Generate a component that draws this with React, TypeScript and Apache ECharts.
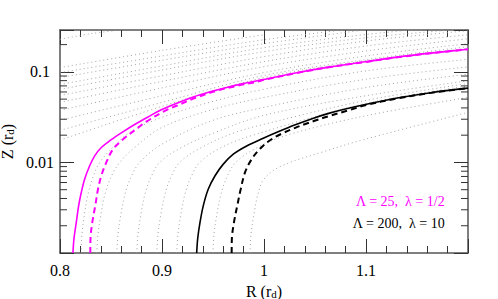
import React, { useEffect, useRef } from 'react';
import * as echarts from 'echarts';

type Pt = [number, number];

const xTickLabels = ['0.8', '0.9', '1', '1.1'];
const yTickLabels: Record<string, string> = { '-2': '0.01', '-1': '0.1' };
const minorLogTicks = [0.002, 0.003, 0.004, 0.005, 0.006, 0.007, 0.008, 0.009, 0.02, 0.03, 0.04, 0.05, 0.06, 0.07, 0.08, 0.09, 0.2];
const legendTexts = ['Λ = 25,  λ = 1/2', 'Λ = 200,  λ = 10'];

const magentaSolid: Pt[] = [
  [0.8127, 0.001], [0.8137, 0.00144], [0.816, 0.00219], [0.8183, 0.00334], [0.8209, 0.00468], [0.8242, 0.00655],
  [0.8291, 0.00918], [0.834, 0.01182], [0.8405, 0.01462], [0.8503, 0.01785], [0.8601, 0.0212], [0.8732, 0.02623],
  [0.8863, 0.03178], [0.8993, 0.03814], [0.9144, 0.04494], [0.9307, 0.05285], [0.9471, 0.06013], [0.9634, 0.06722],
  [0.9797, 0.07419], [0.9993, 0.08229], [1.0307, 0.09725], [1.0634, 0.1129], [1.0993, 0.1291], [1.1307, 0.1454],
  [1.1634, 0.1609], [1.2, 0.1776],
];
const magentaDashed: Pt[] = [
  [0.8297, 0.001], [0.8299, 0.00144], [0.8317, 0.00219], [0.8346, 0.00334], [0.8373, 0.00509], [0.8405, 0.00713],
  [0.8454, 0.01], [0.852, 0.014], [0.8618, 0.018], [0.8748, 0.0234], [0.8846, 0.0282], [0.9029, 0.0372],
  [0.9144, 0.0423], [0.934, 0.0522], [0.9536, 0.0618], [0.9732, 0.07], [0.9928, 0.0775], [0.9993, 0.08106],
  [1.0307, 0.09651], [1.0634, 0.1123], [1.0993, 0.1285], [1.1307, 0.145], [1.1634, 0.1606], [1.2, 0.1772],
];
const blackSolid: Pt[] = [
  [0.934, 0.001], [0.935, 0.00144], [0.9373, 0.00219], [0.9405, 0.00334], [0.9454, 0.00509], [0.952, 0.00713],
  [0.9601, 0.00958], [0.9699, 0.01233], [0.983, 0.01521], [0.9993, 0.01849], [1.0144, 0.02191], [1.0307, 0.02603],
  [1.0471, 0.03045], [1.0634, 0.03481], [1.0797, 0.03892], [1.0993, 0.04372], [1.1307, 0.0514], [1.1634, 0.05893],
  [1.2, 0.0662],
];
const blackDashed: Pt[] = [
  [0.9683, 0.001], [0.9685, 0.00144], [0.9706, 0.00219], [0.9738, 0.00334], [0.9772, 0.00509], [0.9814, 0.00777],
  [0.9879, 0.01087], [0.9961, 0.01418], [1.0059, 0.01758], [1.0176, 0.02083], [1.0307, 0.02412], [1.0405, 0.02656],
  [1.0503, 0.02902], [1.0634, 0.03243], [1.083, 0.03764], [1.0993, 0.04284], [1.1307, 0.05088], [1.1634, 0.05863],
  [1.2, 0.06603],
];

const grayCurves: Pt[][] = [
  [[0.8, 0.0176], [0.9, 0.0416], [1.0, 0.0866], [1.1, 0.1331], [1.2, 0.1826]],
  [[0.8, 0.0226], [0.9, 0.046], [1.0, 0.0911], [1.1, 0.1365], [1.2, 0.1897]],
  [[0.8, 0.0292], [0.9, 0.0545], [1.0, 0.0982], [1.1, 0.1499], [1.2, 0.2047]],
  [[0.8, 0.0376], [0.9, 0.0665], [1.0, 0.1143], [1.1, 0.1701], [1.2, 0.2322]],
  [[0.8, 0.046], [0.9, 0.0785], [1.0, 0.1298], [1.1, 0.1931], [1.2, 0.257]],
  [[0.8, 0.0549], [0.9, 0.0905], [1.0, 0.1473], [1.1, 0.2191], [1.2, 0.2843]],
  [[0.8, 0.0639], [0.9, 0.105], [1.0, 0.1672], [1.1, 0.2381], [1.2, 0.3]],
  [[0.8, 0.0725], [0.9, 0.1164], [1.0, 0.1849], [1.1, 0.2589], [1.2, 0.33]],
  [[0.8, 0.0866], [0.9, 0.1345], [1.0, 0.2047], [1.1, 0.2917]],
  [[0.8, 0.0982], [0.9, 0.1499], [1.0, 0.2264], [1.1, 0.31]],
  [[0.8, 0.1115], [0.9, 0.1727], [1.0, 0.257]],
  [[0.8, 0.2282], [0.83, 0.264], [0.86, 0.29]],
  [[0.8206, 0.001], [0.8216, 0.00163], [0.824, 0.0027], [0.8275, 0.00448], [0.8324, 0.0069], [0.8392, 0.01008], [0.852, 0.01473], [0.8686, 0.02153], [0.9, 0.0315], [0.95, 0.0472], [1.0, 0.0644], [1.1, 0.1026], [1.2, 0.1375]],
  [[0.836, 0.001], [0.8373, 0.00163], [0.8402, 0.0027], [0.8441, 0.00448], [0.85, 0.0069], [0.8588, 0.01008], [0.8735, 0.01473], [0.9, 0.0244], [0.95, 0.0385], [1.0, 0.0522], [1.1, 0.0829], [1.2, 0.1135]],
  [[0.8556, 0.001], [0.8569, 0.00163], [0.8598, 0.0027], [0.8637, 0.00448], [0.8696, 0.0069], [0.8784, 0.01008], [0.9, 0.0159], [0.95, 0.0292], [1.0, 0.0405], [1.1, 0.0672], [1.2, 0.0941]],
  [[0.8752, 0.001], [0.8765, 0.00163], [0.8794, 0.0027], [0.8833, 0.00448], [0.8892, 0.0069], [0.898, 0.01008], [0.9196, 0.01473], [0.95, 0.021], [1.0, 0.0331], [1.1, 0.0545], [1.2, 0.0796]],
  [[0.8948, 0.001], [0.8961, 0.00163], [0.899, 0.0027], [0.9029, 0.00448], [0.9088, 0.0069], [0.9176, 0.01008], [0.9392, 0.01473], [0.9696, 0.021], [1.0, 0.02636], [1.1, 0.0484], [1.2, 0.0744]],
  [[0.9144, 0.001], [0.9157, 0.00163], [0.9186, 0.0027], [0.9225, 0.00448], [0.9284, 0.0069], [0.9373, 0.01008], [0.9588, 0.01473], [0.9892, 0.02], [1.1, 0.0448], [1.2, 0.0698]],
  [[0.95, 0.001], [0.951, 0.00163], [0.9539, 0.0027], [0.9578, 0.00448], [0.9637, 0.0069], [0.9725, 0.01008], [0.9941, 0.01473], [1.0255, 0.0205], [1.1, 0.0328], [1.2, 0.0522]],
  [[0.9863, 0.001], [0.9873, 0.00163], [0.9902, 0.0027], [0.9941, 0.00448], [1.0, 0.00655], [1.0167, 0.0091], [1.0569, 0.013], [1.099, 0.01803], [1.2, 0.0357]],
];

const FONT = 'Liberation Serif';
const X_MIN = 0.8, X_MAX = 1.2, Y_MIN = 0.001, Y_MAX = 0.29;

export default function App() {
  const ref = useRef<HTMLDivElement>(null);
  useEffect(() => {
    if (!ref.current) return;
    const chart = echarts.init(ref.current, null, { renderer: 'svg' });
    const axisLine = { show: true, onZero: false, lineStyle: { color: '#555', width: 1.5 } };
    const tick = { show: true, inside: true, length: 14, lineStyle: { color: '#333', width: 1 } };
    const minor = { show: true, splitNumber: 5, length: 7, lineStyle: { color: '#333', width: 1 } };
    const rich = {
      a: { fontFamily: FONT, fontSize: 16, color: '#000', lineHeight: 16 },
      s: { fontFamily: FONT, fontSize: 11, color: '#000', lineHeight: 16, verticalAlign: 'bottom', padding: [6, 0, 0, 0] },
    };
    const xLabel = (v: number) => {
      const i = Math.round((v - X_MIN) / 0.1);
      return Math.abs(v - (X_MIN + i * 0.1)) < 1e-6 ? xTickLabels[i] ?? '' : '';
    };
    const yLabel = (v: number) => {
      const l = Math.log10(v);
      const r = Math.round(l);
      return Math.abs(l - r) < 1e-3 ? yTickLabels[String(r)] ?? '' : '';
    };

    const lineSeries = (data: Pt[], color: string, width: number, type: any, z = 3) => ({
      type: 'line', data, showSymbol: false, smooth: 0.35, silent: true, z,
      lineStyle: { color, width, type }, xAxisIndex: 0, yAxisIndex: 0,
    });

    const option: any = {
      animation: false,
      grid: { left: 60, right: 30, top: 30, bottom: 46, containLabel: false, outerBoundsMode: 'none' },
      xAxis: [
        {
          type: 'value', min: X_MIN, max: X_MAX, interval: 0.1, position: 'bottom',
          axisLine, axisTick: tick, minorTick: minor, splitLine: { show: false },
          axisLabel: { margin: 9, fontFamily: FONT, fontSize: 16, color: '#000', formatter: xLabel },
          name: '{a|R (r}{s|d}{a|)}', nameLocation: 'middle', nameGap: 23,
          nameTextStyle: { rich },
        },
        {
          type: 'value', min: X_MIN, max: X_MAX, interval: 0.1, position: 'top',
          axisLine, axisTick: tick, minorTick: minor, splitLine: { show: false },
          axisLabel: { show: false },
        },
      ],
      yAxis: [
        {
          type: 'log', logBase: 10, min: Y_MIN, max: Y_MAX, position: 'left',
          axisLine, axisTick: tick, splitLine: { show: false },
          axisLabel: { margin: 20, align: 'center', fontFamily: FONT, fontSize: 16, color: '#000', formatter: yLabel },
          name: '{a|Z (r}{s|d}{a|)}', nameLocation: 'middle', nameGap: 34, nameRotate: 90,
          nameTextStyle: { rich },
        },
        {
          type: 'log', logBase: 10, min: Y_MIN, max: Y_MAX, position: 'right',
          axisLine, axisTick: tick, splitLine: { show: false }, axisLabel: { show: false },
        },
      ],
      series: [
        ...grayCurves.map((c) => lineSeries(c, '#9a9a9a', 0.9, [1, 3], 2)),
        lineSeries(magentaSolid, '#ff00ff', 1.6, 'solid'),
        lineSeries(magentaDashed, '#ff00ff', 2, [6, 4]),
        lineSeries(blackSolid, '#000', 1.6, 'solid'),
        lineSeries(blackDashed, '#000', 2, [6, 4]),
        {
          type: 'custom', xAxisIndex: 0, yAxisIndex: 0, silent: true, z: 6, clip: false,
          data: minorLogTicks.map((v) => [X_MIN, v]),
          renderItem: (params: any, api: any) => {
            const cs = params.coordSys;
            const y = api.coord([X_MIN, api.value(1)])[1];
            const st = { stroke: '#333', lineWidth: 1 };
            return {
              type: 'group',
              children: [
                { type: 'line', shape: { x1: cs.x, y1: y, x2: cs.x + 7, y2: y }, style: st },
                { type: 'line', shape: { x1: cs.x + cs.width, y1: y, x2: cs.x + cs.width - 7, y2: y }, style: st },
              ],
            };
          },
        },
      ],
      graphic: [
        { type: 'text', right: 53, top: 194, style: { text: legendTexts[0], fill: '#ff00ff', font: `14px ${FONT}` } },
        { type: 'text', right: 53, top: 216, style: { text: legendTexts[1], fill: '#000', font: `14px ${FONT}` } },
      ],
    };
    chart.setOption(option);
    return () => chart.dispose();
  }, []);
  return <div ref={ref} style={{ width: 498, height: 299, position: 'absolute', left: 0, top: 0 }} />;
}
